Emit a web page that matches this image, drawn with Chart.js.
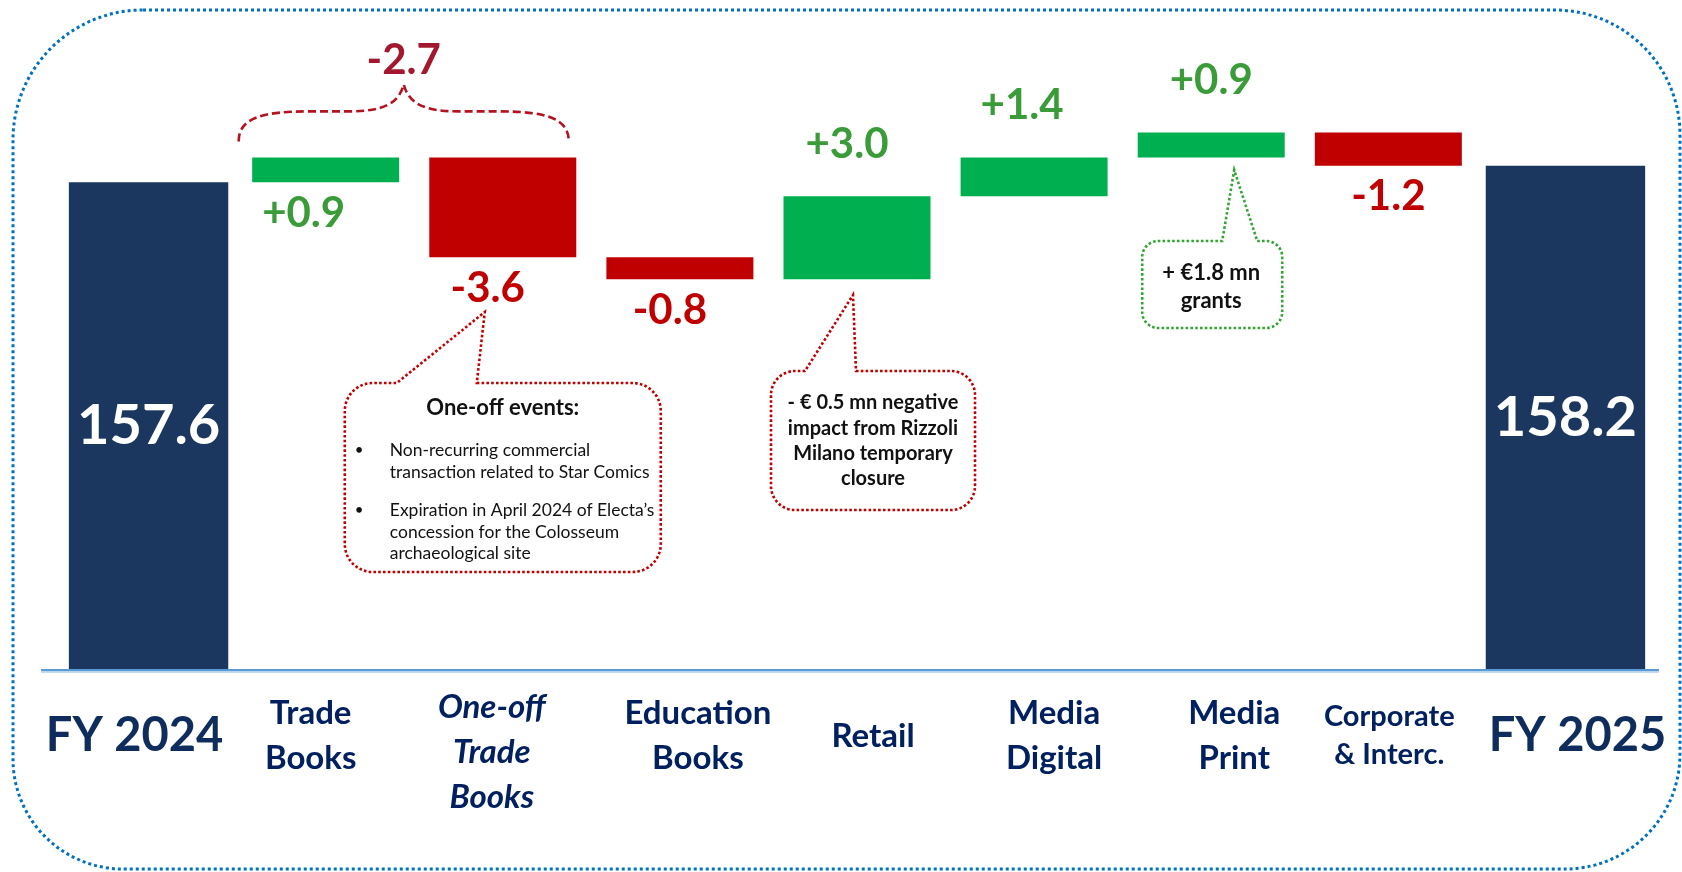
<!DOCTYPE html>
<html>
<head>
<meta charset="utf-8">
<title>Revenue bridge FY 2024 - FY 2025</title>
<script src="https://cdn.jsdelivr.net/npm/chart.js@4.4.1/dist/chart.umd.min.js"></script>
<style>
  html, body { margin: 0; padding: 0; background: #ffffff; }
  #wrap { width: 1682px; height: 872px; }
</style>
</head>
<body>
<div id="wrap"><canvas id="bridgeChart" width="1682" height="872"></canvas></div>
<script>
// Revenue bridge (waterfall) FY 2024 -> FY 2025, EUR mn

// Data
const categories = [
    ['FY 2024'],
    ['Trade', 'Books'],
    ['One-off', 'Trade', 'Books'],
    ['Education', 'Books'],
    ['Retail'],
    ['Media', 'Digital'],
    ['Media', 'Print'],
    ['Corporate', '& Interc.'],
    ['FY 2025']
];
const startTotal = 157.6;
const endTotal = 158.2;
const deltas = [0.9, -3.6, -0.8, 3.0, 1.4, 0.9, -1.2];
const deltaLabels = ['+0.9', '-3.6', '-0.8', '+3.0', '+1.4', '+0.9', '-1.2'];
const totalLabels = ['157.6', '158.2'];
const groupLabel = '-2.7'; // Trade Books + One-off
const yMin = 140;
const yMax = 164;

// Styles
const FONT = 'Lato, "Liberation Sans", sans-serif';
const COLOR_TOTAL = '#1b375f';
const COLOR_UP = '#00b050';
const COLOR_DOWN = '#c00000';
const TEXT_UP = '#3a9c38';
const TEXT_DOWN = '#c00000';
const TEXT_GROUP = '#a3182e';
const TEXT_CAT = '#002060';
const deltaLabelSide = ['below', 'below', 'below', 'above', 'above', 'above', 'below'];
const deltaLabelNudge = [-22, -15, -10, -10, -12, 0, 0];
const catLabelNudge = [-14, -15, -11, 18, 16, 20, 23, 1, 12];

// Build the datasets from the data arrays
const lastIdx = categories.length - 1;
const totalData = categories.map((c, i) => i === 0 ? startTotal : (i === lastIdx ? endTotal : null));
const deltaData = [null];
const deltaColors = [null];
let running = startTotal;
deltas.forEach(d => {
    deltaData.push([running, running + d]);
    deltaColors.push(d >= 0 ? COLOR_UP : COLOR_DOWN);
    running += d;
});
deltaData.push(null);
deltaColors.push(null);

// Rounded rect path with separate radii
function roundedPath(ctx, l, t, r, b, rad) {
    ctx.beginPath();
    ctx.moveTo(l + rad[0], t);
    ctx.lineTo(r - rad[1], t);
    ctx.arcTo(r, t, r, t + rad[1], rad[1]);
    ctx.lineTo(r, b - rad[2]);
    ctx.arcTo(r, b, r - rad[2], b, rad[2]);
    ctx.lineTo(l + rad[3], b);
    ctx.arcTo(l, b, l, b - rad[3], rad[3]);
    ctx.lineTo(l, t + rad[0]);
    ctx.arcTo(l, t, l + rad[0], t, rad[0]);
    ctx.closePath();
}

// Speech bubble with a pointer leaving the top edge
function drawCallout(ctx, box, ptr, color, radius) {
    ctx.save();
    ctx.strokeStyle = color;
    ctx.lineWidth = 2.6;
    ctx.setLineDash([2.6, 2.2]);
    ctx.beginPath();
    ctx.moveTo(ptr.x2, box.t);
    ctx.lineTo(box.r - radius, box.t);
    ctx.arcTo(box.r, box.t, box.r, box.t + radius, radius);
    ctx.lineTo(box.r, box.b - radius);
    ctx.arcTo(box.r, box.b, box.r - radius, box.b, radius);
    ctx.lineTo(box.l + radius, box.b);
    ctx.arcTo(box.l, box.b, box.l, box.b - radius, radius);
    ctx.lineTo(box.l, box.t + radius);
    ctx.arcTo(box.l, box.t, box.l + radius, box.t, radius);
    ctx.lineTo(ptr.x1, box.t);
    ctx.lineTo(ptr.tipX, ptr.tipY);
    ctx.closePath();
    ctx.stroke();
    ctx.restore();
}

function drawText(ctx, text, x, y, font, color, align) {
    ctx.font = font;
    ctx.fillStyle = color;
    ctx.textAlign = align || 'center';
    ctx.textBaseline = 'middle';
    ctx.fillText(text, x, y);
}

// Brace over Trade Books + One-off
function drawBrace(ctx, L, R, yEnd, yS, yTip) {
    const M = (L + R) / 2;
    ctx.save();
    ctx.strokeStyle = '#b3121f';
    ctx.lineWidth = 2.6;
    ctx.setLineDash([8, 4]);
    ctx.beginPath();
    ctx.moveTo(L, yEnd);
    ctx.bezierCurveTo(L, yS + 6, L + 25, yS, L + 70, yS);
    ctx.lineTo(M - 55, yS);
    ctx.bezierCurveTo(M - 20, yS, M - 5, yS - 8, M, yTip);
    ctx.bezierCurveTo(M + 5, yS - 8, M + 20, yS, M + 55, yS);
    ctx.lineTo(R - 70, yS);
    ctx.bezierCurveTo(R - 25, yS, R, yS + 6, R, yEnd);
    ctx.stroke();
    ctx.restore();
}

const bridgeDecor = {
    id: 'bridgeDecor',
    beforeDraw(chart) {
        const ctx = chart.ctx;
        ctx.save();
        ctx.fillStyle = '#ffffff';
        ctx.fillRect(0, 0, chart.width, chart.height);
        ctx.restore();
    },
    afterDatasetsDraw(chart) {
        const ctx = chart.ctx;
        const x = chart.scales.x;
        const y = chart.scales.y;
        const area = chart.chartArea;
        const px = i => x.getPixelForValue(i);
        ctx.save();

        // Outer dotted frame
        ctx.strokeStyle = '#0070c0';
        ctx.lineWidth = 3;
        ctx.setLineDash([3, 3]);
        roundedPath(ctx, 13, 10, 1680, 869, [130, 125, 115, 110]);
        ctx.stroke();
        ctx.setLineDash([]);

        // Axis line
        ctx.fillStyle = '#5b9bd5';
        ctx.fillRect(41, area.bottom - 1, 1618, 2.5);
        ctx.fillStyle = '#c5dbef';
        ctx.fillRect(41, area.bottom + 1.5, 1618, 1.5);

        // Totals labels (inside bars)
        [startTotal, endTotal].forEach((v, k) => {
            const idx = k === 0 ? 0 : lastIdx;
            const mid = (y.getPixelForValue(v) + area.bottom) / 2;
            drawText(ctx, totalLabels[k], px(idx), mid, 'bold 56px ' + FONT, '#ffffff');
        });

        // Delta labels
        const dMeta = chart.getDatasetMeta(1);
        deltas.forEach((d, k) => {
            const bar = dMeta.data[k + 1];
            const top = Math.min(bar.y, bar.base);
            const bottom = Math.max(bar.y, bar.base);
            const ly = deltaLabelSide[k] === 'above' ? top - 52 : bottom + 31;
            drawText(ctx, deltaLabels[k], bar.x + deltaLabelNudge[k], ly,
                'bold 42px ' + FONT, d >= 0 ? TEXT_UP : TEXT_DOWN);
        });

        // Brace + group label
        const braceTop = y.getPixelForValue(startTotal + deltas[0]);
        const L = px(1) - 87;
        const R = px(2) + 66;
        drawBrace(ctx, L, R, braceTop - 16, braceTop - 46, braceTop - 73);
        drawText(ctx, groupLabel, (L + R) / 2, braceTop - 97, 'bold 42px ' + FONT, TEXT_GROUP);

        // Category labels
        categories.forEach((lines, i) => {
            let font = 'bold 33px ' + FONT;
            let gap = 45;
            let color = TEXT_CAT;
            if (i === 0 || i === lastIdx) { font = 'bold 47px ' + FONT; color = '#0f2d5c'; }
            if (i === 2) font = 'italic bold 33px ' + FONT;
            if (i === 7) { font = 'bold 29px ' + FONT; gap = 38; }
            const n = lines.length;
            const firstY = 736 - (Math.min(n, 2) - 1) * gap / 2 - (n > 2 ? 6 : 0);
            lines.forEach((line, j) => {
                drawText(ctx, line, px(i) + catLabelNudge[i], firstY + j * gap, font, color);
            });
        });

        // Callout: one-off events
        let c = px(2);
        drawCallout(ctx, { l: c - 158, t: 383, r: c + 158, b: 572 },
            { x1: c - 106, x2: c - 26, tipX: c - 18, tipY: 312 }, '#c00000', 28);
        drawText(ctx, 'One-off events:', c, 408, 'bold 22px ' + FONT, '#111111');
        const bulletFont = '17.5px ' + FONT;
        drawText(ctx, '\u2022', c - 148, 450, '15px ' + FONT, '#111111', 'left');
        drawText(ctx, 'Non-recurring commercial', c - 113, 450, bulletFont, '#111111', 'left');
        drawText(ctx, 'transaction related to Star Comics', c - 113, 472, bulletFont, '#111111', 'left');
        drawText(ctx, '\u2022', c - 148, 510, '15px ' + FONT, '#111111', 'left');
        drawText(ctx, 'Expiration in April 2024 of Electa\u2019s', c - 113, 510, bulletFont, '#111111', 'left');
        drawText(ctx, 'concession for the Colosseum', c - 113, 532, bulletFont, '#111111', 'left');
        drawText(ctx, 'archaeological site', c - 113, 553, bulletFont, '#111111', 'left');

        // Callout: retail
        c = px(4);
        drawCallout(ctx, { l: c - 86, t: 371, r: c + 118, b: 510 },
            { x1: c - 52, x2: c - 1, tipX: c - 4, tipY: 295 }, '#c00000', 24);
        const retailLines = ['- \u20ac 0.5 mn negative', 'impact from Rizzoli', 'Milano temporary', 'closure'];
        retailLines.forEach((t, j) => drawText(ctx, t, c + 16, 403 + j * 25.3, 'bold 20px ' + FONT, '#111111'));

        // Callout: media print grants
        c = px(6);
        drawCallout(ctx, { l: c - 69, t: 241, r: c + 71, b: 328 },
            { x1: c + 11, x2: c + 46, tipX: c + 23, tipY: 170 }, '#33a532', 16);
        drawText(ctx, '+ \u20ac1.8 mn', c, 273, 'bold 22px ' + FONT, '#111111');
        drawText(ctx, 'grants', c, 301, 'bold 22px ' + FONT, '#111111');

        ctx.restore();
    }
};

const ctx = document.getElementById('bridgeChart').getContext('2d');
const bridgeChart = new Chart(ctx, {
    type: 'bar',
    data: {
        labels: categories,
        datasets: [{
            label: 'Total',
            data: totalData,
            backgroundColor: COLOR_TOTAL,
            barPercentage: 0.9,
            categoryPercentage: 1,
            grouped: false
        }, {
            label: 'Change',
            data: deltaData,
            backgroundColor: deltaColors,
            barPercentage: 0.83,
            categoryPercentage: 1,
            grouped: false
        }]
    },
    options: {
        responsive: false,
        animation: false,
        layout: { padding: { left: 60, right: 28, top: 5, bottom: 202 } },
        plugins: {
            legend: { display: false },
            tooltip: { enabled: false }
        },
        scales: {
            x: { display: false },
            y: { display: false, min: yMin, max: yMax }
        }
    },
    plugins: [bridgeDecor]
});
</script>
</body>
</html>
